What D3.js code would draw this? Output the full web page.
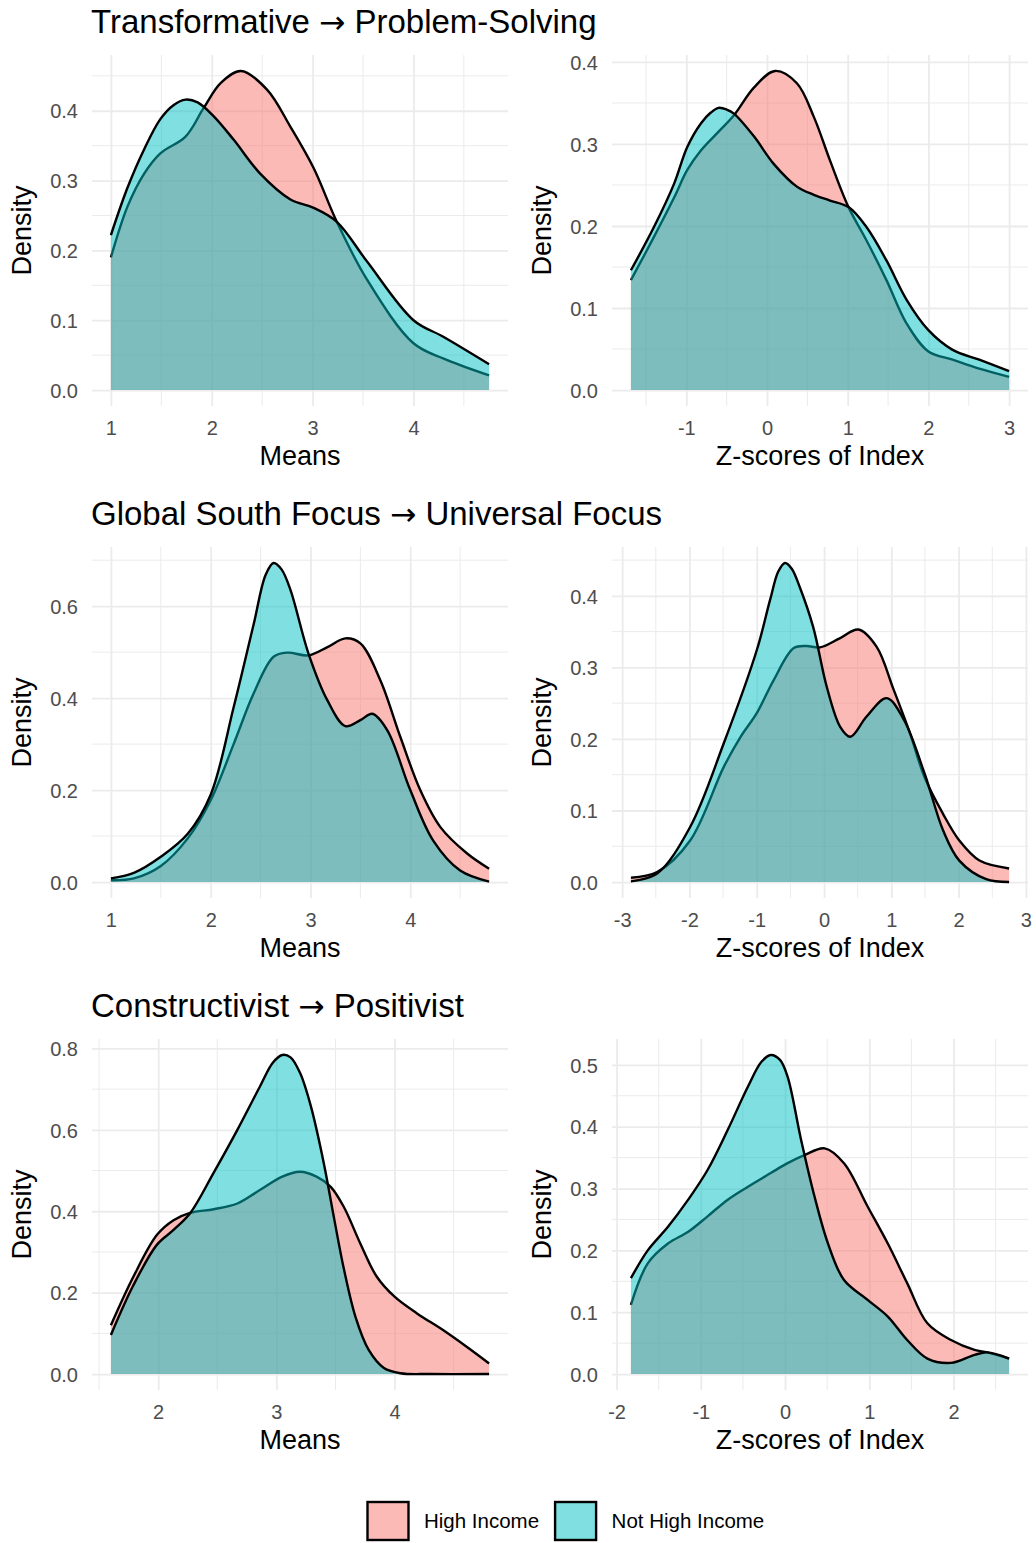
<!DOCTYPE html>
<html>
<head>
<meta charset="utf-8">
<script src="https://cdn.jsdelivr.net/npm/d3@7"></script>
<style>
  body { margin: 0; background: #ffffff; }
  svg { display: block; }
</style>
</head>
<body>
<svg id="chart" width="1036" height="1543"></svg>
<script>
// ---- Labels -------------------------------------------------------------
const rowTitles = [
  ["Transformative", "Problem-Solving"],
  ["Global South Focus", "Universal Focus"],
  ["Constructivist", "Positivist"]
];
const arrow = "\u2192";
const xAxisTitles = ["Means", "Z-scores of Index"];
const yAxisTitle = "Density";
const groups = ["High Income", "Not High Income"];
const groupColors = ["#F8766D", "#00BFC4"];

// ---- Density estimates, [x, density] ------------------------------------
// Transformative -> Problem-Solving, means
const tpsMeansHigh = [[1.00,0.190],[1.165,0.263],[1.33,0.310],[1.49,0.339],[1.74,0.363],[1.92,0.404],[2.09,0.440],[2.29,0.457],[2.55,0.430],[2.78,0.377],[3.01,0.318],[3.24,0.241],[3.54,0.158],[4.00,0.067],[4.30,0.045],[4.75,0.021]];
const tpsMeansNot  = [[1.00,0.222],[1.165,0.290],[1.33,0.345],[1.49,0.388],[1.62,0.408],[1.74,0.416],[1.86,0.412],[2.02,0.392],[2.22,0.358],[2.48,0.310],[2.78,0.273],[3.01,0.261],[3.24,0.241],[3.54,0.184],[4.00,0.100],[4.30,0.076],[4.75,0.037]];
// Transformative -> Problem-Solving, z-scores
const tpsZHigh = [[-1.687,0.134],[-1.40,0.187],[-1.15,0.235],[-0.99,0.268],[-0.82,0.292],[-0.60,0.315],[-0.41,0.335],[-0.16,0.369],[0.10,0.389],[0.37,0.374],[0.58,0.333],[0.78,0.280],[1.01,0.223],[1.23,0.183],[1.48,0.134],[1.73,0.081],[2.00,0.047],[2.30,0.037],[2.63,0.026],[3.00,0.016]];
const tpsZNot  = [[-1.687,0.146],[-1.40,0.199],[-1.15,0.252],[-0.99,0.296],[-0.82,0.325],[-0.70,0.338],[-0.60,0.344],[-0.50,0.342],[-0.41,0.337],[-0.16,0.309],[0.08,0.276],[0.37,0.248],[0.58,0.238],[0.78,0.231],[1.01,0.223],[1.23,0.199],[1.48,0.158],[1.73,0.110],[2.00,0.073],[2.30,0.049],[2.63,0.037],[3.00,0.023]];
// Global South Focus -> Universal Focus, means
const gsuMeansHigh = [[1.00,0.004],[1.23,0.008],[1.50,0.035],[1.77,0.095],[2.00,0.178],[2.23,0.300],[2.43,0.410],[2.63,0.490],[2.77,0.499],[2.98,0.493],[3.17,0.511],[3.35,0.530],[3.50,0.519],[3.70,0.439],[3.90,0.316],[4.10,0.200],[4.30,0.120],[4.57,0.062],[4.79,0.029]];
const gsuMeansNot  = [[1.00,0.008],[1.23,0.020],[1.50,0.055],[1.77,0.105],[2.00,0.190],[2.23,0.380],[2.43,0.560],[2.55,0.668],[2.63,0.694],[2.71,0.680],[2.80,0.635],[2.98,0.497],[3.17,0.395],[3.35,0.339],[3.50,0.352],[3.62,0.366],[3.77,0.330],[4.00,0.200],[4.23,0.090],[4.50,0.025],[4.79,0.001]];
// Global South Focus -> Universal Focus, z-scores
const gsuZHigh = [[-2.87,0.006],[-2.48,0.014],[-1.99,0.058],[-1.49,0.161],[-1.24,0.203],[-1.00,0.236],[-0.75,0.282],[-0.45,0.327],[-0.26,0.330],[-0.06,0.328],[0.24,0.341],[0.51,0.353],[0.78,0.329],[1.03,0.270],[1.27,0.210],[1.50,0.145],[1.77,0.095],[2.01,0.058],[2.31,0.030],[2.75,0.019]];
const gsuZNot  = [[-2.87,0.001],[-2.48,0.012],[-1.99,0.077],[-1.49,0.194],[-1.00,0.324],[-0.80,0.395],[-0.68,0.434],[-0.58,0.446],[-0.48,0.438],[-0.36,0.412],[-0.16,0.356],[0.04,0.273],[0.24,0.217],[0.39,0.203],[0.63,0.231],[0.93,0.257],[1.18,0.228],[1.50,0.150],[1.77,0.072],[2.01,0.030],[2.41,0.004],[2.75,0.000]];
// Constructivist -> Positivist, means
const cpMeansHigh = [[1.60,0.120],[1.79,0.239],[1.99,0.342],[2.13,0.378],[2.27,0.396],[2.47,0.405],[2.67,0.419],[2.86,0.452],[3.05,0.485],[3.20,0.497],[3.34,0.485],[3.46,0.460],[3.57,0.411],[3.71,0.321],[3.85,0.239],[4.00,0.190],[4.19,0.149],[4.41,0.108],[4.61,0.067],[4.80,0.026]];
const cpMeansNot  = [[1.60,0.096],[1.79,0.218],[1.99,0.318],[2.13,0.354],[2.27,0.395],[2.47,0.495],[2.67,0.600],[2.86,0.706],[2.97,0.765],[3.05,0.784],[3.12,0.778],[3.20,0.740],[3.29,0.660],[3.40,0.520],[3.49,0.380],[3.57,0.260],[3.67,0.140],[3.78,0.060],[3.91,0.015],[4.05,0.002],[4.30,0.000],[4.80,0.000]];
// Constructivist -> Positivist, z-scores
const cpZHigh = [[-1.83,0.112],[-1.63,0.179],[-1.39,0.211],[-1.15,0.230],[-0.92,0.255],[-0.68,0.282],[-0.44,0.303],[-0.17,0.325],[0.03,0.341],[0.23,0.354],[0.47,0.365],[0.70,0.341],[0.98,0.271],[1.22,0.211],[1.45,0.147],[1.69,0.082],[1.97,0.055],[2.25,0.039],[2.40,0.035],[2.66,0.025]];
const cpZNot  = [[-1.83,0.155],[-1.63,0.200],[-1.39,0.238],[-1.15,0.282],[-0.92,0.330],[-0.68,0.395],[-0.44,0.465],[-0.28,0.505],[-0.17,0.516],[-0.06,0.508],[0.03,0.481],[0.19,0.379],[0.35,0.287],[0.51,0.211],[0.70,0.152],[0.98,0.120],[1.22,0.093],[1.45,0.055],[1.69,0.025],[1.97,0.018],[2.25,0.031],[2.40,0.035],[2.66,0.025]];

// ---- Axis breaks ---------------------------------------------------------
const tpsMeansXTicks = [1, 2, 3, 4];
const tpsMeansYTicks = [0, 0.1, 0.2, 0.3, 0.4];
const tpsZXTicks = [-1, 0, 1, 2, 3];
const tpsZYTicks = [0, 0.1, 0.2, 0.3, 0.4];
const gsuMeansXTicks = [1, 2, 3, 4];
const gsuMeansYTicks = [0, 0.2, 0.4, 0.6];
const gsuZXTicks = [-3, -2, -1, 0, 1, 2, 3];
const gsuZYTicks = [0, 0.1, 0.2, 0.3, 0.4];
const cpMeansXTicks = [2, 3, 4];
const cpMeansYTicks = [0, 0.2, 0.4, 0.6, 0.8];
const cpZXTicks = [-2, -1, 0, 1, 2];
const cpZYTicks = [0, 0.1, 0.2, 0.3, 0.4, 0.5];

// ---- Layout --------------------------------------------------------------
const FONT = "'Liberation Sans', Arial, Helvetica, sans-serif";
const colX = [92, 612];
const rowY = [55, 547, 1039];
const PW = 416, PH = 351;
const GRID = "#EBEBEB";
const TICK_COLOR = "#4D4D4D";
const TICK_SIZE = 20;
const AXIS_TITLE_SIZE = 27;
const TITLE_SIZE = 33;
const OUTLINE = 2.4;

const panels = [
  { row: 0, col: 0, series: [tpsMeansHigh, tpsMeansNot], xTicks: tpsMeansXTicks, yTicks: tpsMeansYTicks },
  { row: 0, col: 1, series: [tpsZHigh, tpsZNot], xTicks: tpsZXTicks, yTicks: tpsZYTicks },
  { row: 1, col: 0, series: [gsuMeansHigh, gsuMeansNot], xTicks: gsuMeansXTicks, yTicks: gsuMeansYTicks },
  { row: 1, col: 1, series: [gsuZHigh, gsuZNot], xTicks: gsuZXTicks, yTicks: gsuZYTicks },
  { row: 2, col: 0, series: [cpMeansHigh, cpMeansNot], xTicks: cpMeansXTicks, yTicks: cpMeansYTicks },
  { row: 2, col: 1, series: [cpZHigh, cpZNot], xTicks: cpZXTicks, yTicks: cpZYTicks }
];

const svg = d3.select("#chart");
svg.append("rect").attr("width", 1036).attr("height", 1543).attr("fill", "#ffffff");

// minor breaks sit halfway between the major ones, also one step past each end
function minorBreaks(major, domain) {
  const step = major[1] - major[0];
  const out = [];
  for (let v = major[0] - step / 2; v <= major[major.length - 1] + step / 2 + 1e-9; v += step) {
    if (v >= domain[0] && v <= domain[1]) out.push(v);
  }
  return out;
}

const fmtY = d3.format(".1f");
const smooth = d3.curveCatmullRom.alpha(0.5);

panels.forEach(p => {
  const x0 = colX[p.col], y0 = rowY[p.row];
  const g = svg.append("g").attr("transform", `translate(${x0},${y0})`);

  const all = p.series.flat();
  const xr = d3.extent(all, d => d[0]);
  const ymax = d3.max(all, d => d[1]);
  const xpad = (xr[1] - xr[0]) * 0.05, ypad = ymax * 0.05;

  const x = d3.scaleLinear().domain([xr[0] - xpad, xr[1] + xpad]).range([0, PW]);
  const y = d3.scaleLinear().domain([-ypad, ymax + ypad]).range([PH, 0]);

  // grid
  const xMinor = minorBreaks(p.xTicks, x.domain());
  const yMinor = minorBreaks(p.yTicks, y.domain());
  g.selectAll(".xminor").data(xMinor).join("line")
    .attr("x1", d => x(d)).attr("x2", d => x(d)).attr("y1", 0).attr("y2", PH)
    .attr("stroke", GRID).attr("stroke-width", 1);
  g.selectAll(".yminor").data(yMinor).join("line")
    .attr("y1", d => y(d)).attr("y2", d => y(d)).attr("x1", 0).attr("x2", PW)
    .attr("stroke", GRID).attr("stroke-width", 1);

  const xAxis = d3.axisBottom(x).tickValues(p.xTicks).tickSize(PH).tickPadding(0).tickFormat(d3.format("d"));
  const xg = g.append("g").call(xAxis);
  xg.select(".domain").remove();
  xg.selectAll(".tick line").attr("stroke", GRID).attr("stroke-width", 1.8);
  xg.selectAll(".tick text").attr("y", PH + 29).attr("dy", null)
    .attr("fill", TICK_COLOR).attr("font-family", FONT).attr("font-size", TICK_SIZE)
    .text(d => d < 0 ? "-" + Math.abs(d) : String(d));

  const yAxis = d3.axisLeft(y).tickValues(p.yTicks).tickSize(-PW).tickPadding(14).tickFormat(fmtY);
  const yg = g.append("g").call(yAxis);
  yg.select(".domain").remove();
  yg.selectAll(".tick line").attr("stroke", GRID).attr("stroke-width", 1.8);
  yg.selectAll(".tick text").attr("fill", TICK_COLOR).attr("font-family", FONT).attr("font-size", TICK_SIZE)
    .attr("dy", "0.36em");

  // densities, High Income first, then Not High Income on top
  const area = d3.area().x(d => x(d[0])).y0(y(0)).y1(d => y(d[1])).curve(smooth);
  const line = d3.line().x(d => x(d[0])).y(d => y(d[1])).curve(smooth);
  p.series.forEach((s, i) => {
    g.append("path").datum(s).attr("d", area)
      .attr("fill", groupColors[i]).attr("fill-opacity", 0.5);
    g.append("path").datum(s).attr("d", line)
      .attr("fill", "none").attr("stroke", "#000").attr("stroke-width", OUTLINE)
      .attr("stroke-linejoin", "round");
  });

  // axis titles
  g.append("text").attr("x", PW / 2).attr("y", PH + 59).attr("text-anchor", "middle")
    .attr("font-family", FONT).attr("font-size", AXIS_TITLE_SIZE).attr("fill", "#000")
    .text(xAxisTitles[p.col]);
  g.append("text").attr("transform", `translate(-61,${PH / 2}) rotate(-90)`)
    .attr("text-anchor", "middle").attr("font-family", FONT).attr("font-size", AXIS_TITLE_SIZE).attr("fill", "#000")
    .text(yAxisTitle);

  if (p.col === 0) {
    const t = g.append("text").attr("x", -1).attr("y", -22)
      .attr("font-family", FONT).attr("font-size", TITLE_SIZE).attr("fill", "#000");
    t.append("tspan").text(rowTitles[p.row][0] + " ");
    t.append("tspan").attr("font-family", "'DejaVu Sans', sans-serif").attr("font-size", TITLE_SIZE * 0.95).text(arrow);
    t.append("tspan").text(" " + rowTitles[p.row][1]);
  }
});

// ---- Legend ---------------------------------------------------------------
const legend = svg.append("g").attr("transform", "translate(0,1502)");
let lx = 367.5;
groups.forEach((name, i) => {
  legend.append("rect").attr("x", lx).attr("y", 0).attr("width", 41).attr("height", 38)
    .attr("fill", groupColors[i]).attr("fill-opacity", 0.5)
    .attr("stroke", "#000").attr("stroke-width", OUTLINE);
  const t = legend.append("text").attr("x", lx + 56.5).attr("y", 26)
    .attr("font-family", FONT).attr("font-size", 20.5).attr("fill", "#000").text(name);
  lx = lx + 56.5 + t.node().getComputedTextLength() + 16;
});
</script>
</body>
</html>
